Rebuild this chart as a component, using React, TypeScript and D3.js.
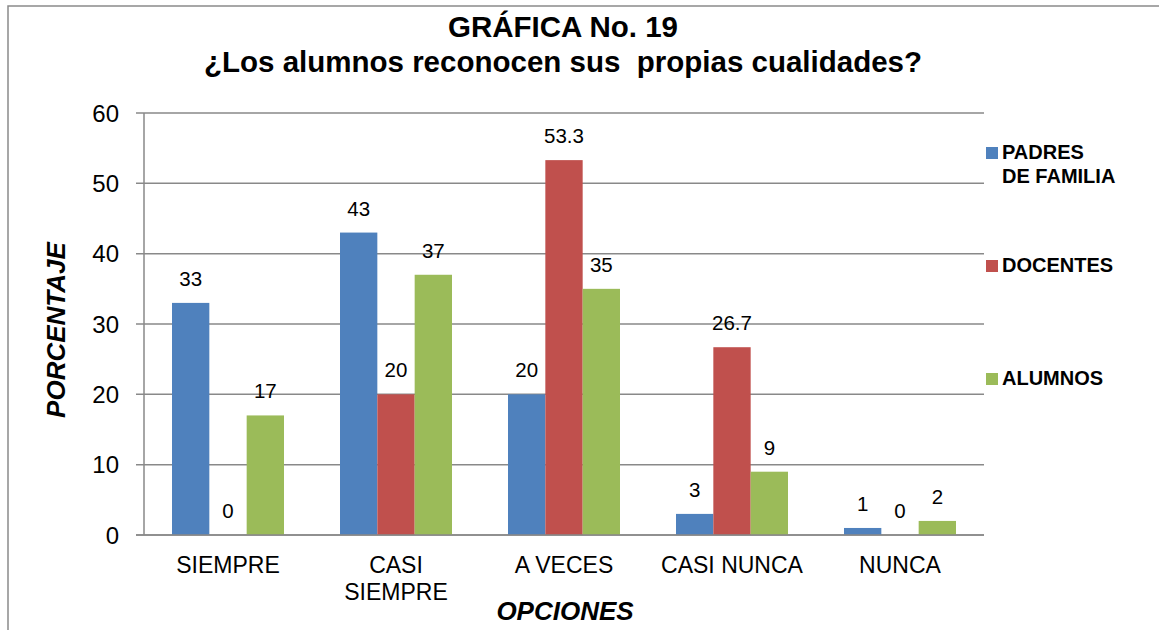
import React from "react";
import * as d3 from "d3";

const categories = ["SIEMPRE", "CASI\nSIEMPRE", "A VECES", "CASI NUNCA", "NUNCA"];
const seriesNames = ["PADRES\nDE FAMILIA", "DOCENTES", "ALUMNOS"];
const padres = [33, 43, 20, 3, 1];
const docentes = [0, 20, 53.3, 26.7, 0];
const alumnos = [17, 37, 35, 9, 2];
const yTicks = [0, 10, 20, 30, 40, 50, 60];
const colors = ["#4F81BD", "#C0504D", "#9BBB59"];

const W = 1159;
const H = 630;
const FONT = "'Liberation Sans', Arial, sans-serif";

export default function App() {
  const series = [padres, docentes, alumnos];
  const x = d3.scaleBand<string>().domain(categories).range([144, 984]).paddingInner(1 / 3).paddingOuter(1 / 6);
  const xs = d3.scaleBand<number>().domain([0, 1, 2]).range([0, x.bandwidth()]);
  const y = d3.scaleLinear().domain([0, 60]).range([535, 113]);

  return (
    <svg width={W} height={H} style={{ position: "absolute", left: 0, top: 0, background: "#fff" }} fontFamily={FONT}>
      <rect x={0} y={0} width={W} height={H} fill="#fff" />
      <path d={`M8,${H} L8,6 L${W},6`} fill="none" stroke="#8a8a8a" strokeWidth={1.5} />
      <text x={563} y={37} textAnchor="middle" fontWeight="bold" fontSize={29.5}>GRÁFICA No. 19</text>
      <text x={563} y={72} textAnchor="middle" fontWeight="bold" fontSize={29.5} style={{ whiteSpace: "pre" }}>
        ¿Los alumnos reconocen sus  propias cualidades?
      </text>
      {yTicks.map((t) => (
        <g key={t}>
          <line x1={136} x2={984} y1={y(t)} y2={y(t)} stroke="#898989" strokeWidth={1.5} />
          <text x={119} y={y(t)} dy="0.36em" textAnchor="end" fontSize={24}>{t}</text>
        </g>
      ))}
      <line x1={144} x2={144} y1={y(60)} y2={y(0)} stroke="#898989" strokeWidth={1.5} />
      {categories.map((c, ci) => (
        <g key={c}>
          {series.map((s, si) => {
            const bx = (x(c) as number) + (xs(si) as number);
            const v = s[ci];
            return (
              <g key={si}>
                <rect x={bx} y={y(v)} width={xs.bandwidth()} height={y(0) - y(v)} fill={colors[si]} />
                <text x={bx + xs.bandwidth() / 2} y={y(v) - 17} textAnchor="middle" fontSize={20.5}>{v}</text>
              </g>
            );
          })}
          {c.split("\n").map((line, li) => (
            <text key={li} x={(x(c) as number) + x.bandwidth() / 2} y={573 + li * 27} textAnchor="middle" fontSize={23}>
              {line}
            </text>
          ))}
        </g>
      ))}
      <line x1={136} x2={984} y1={y(0)} y2={y(0)} stroke="#898989" strokeWidth={1.5} />
      <text transform="translate(65,330) rotate(-90)" textAnchor="middle" fontWeight="bold" fontStyle="italic" fontSize={26}>PORCENTAJE</text>
      <text x={565} y={620} textAnchor="middle" fontWeight="bold" fontStyle="italic" fontSize={26}>OPCIONES</text>
      {seriesNames.map((n, i) => {
        const base = 159 + i * 113;
        return (
          <g key={n}>
            <rect x={986} y={base - 12} width={12} height={12} fill={colors[i]} />
            {n.split("\n").map((line, li) => (
              <text key={li} x={1002} y={base + li * 24} fontWeight="bold" fontSize={20}>{line}</text>
            ))}
          </g>
        );
      })}
    </svg>
  );
}
